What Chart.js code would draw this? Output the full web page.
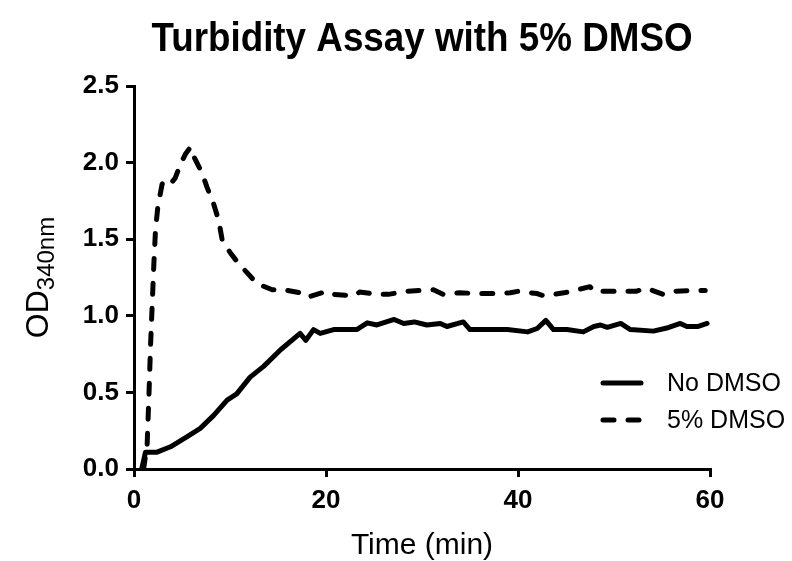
<!DOCTYPE html>
<html>
<head>
<meta charset="utf-8">
<script src="https://cdn.jsdelivr.net/npm/chart.js"></script>
<style>body{margin:0;background:#fff}</style>
</head>
<body>
<canvas id="chart" width="792" height="561"></canvas>
<script>
// values (time in min, OD340nm)
const noDmsoTime = [0.8, 1.2, 2.4, 3.8, 5.5, 6.9, 8.3, 9.7, 10.7, 12.1, 13.5, 15.3, 17.3, 17.9, 18.7, 19.4, 20.8, 23.2, 24.3, 25.3, 27.1, 28.1, 29.2, 30.5, 31.9, 32.6, 34.3, 35.0, 36.8, 38.9, 41.0, 42.0, 42.9, 43.7, 45.1, 46.8, 47.9, 48.6, 49.3, 50.7, 51.7, 54.1, 55.5, 56.9, 57.6, 58.7, 59.7];
const noDmsoOD = [0.0, 0.11, 0.11, 0.145, 0.21, 0.265, 0.35, 0.45, 0.49, 0.60, 0.67, 0.78, 0.885, 0.84, 0.91, 0.885, 0.91, 0.91, 0.954, 0.94, 0.976, 0.95, 0.96, 0.94, 0.95, 0.93, 0.96, 0.91, 0.91, 0.91, 0.895, 0.917, 0.97, 0.91, 0.91, 0.895, 0.93, 0.94, 0.925, 0.95, 0.91, 0.90, 0.92, 0.95, 0.93, 0.93, 0.95];

const dmsoTime = [1.0, 1.37, 1.55, 1.72, 1.9, 2.07, 2.24, 2.48, 2.93, 3.3, 3.8, 4.3, 4.84, 5.4, 5.88, 6.23, 7.1, 7.6, 8.3, 8.83, 9.2, 10.05, 10.9, 11.8, 12.8, 14.4, 15.6, 17.3, 18.0, 20.1, 20.8, 22.9, 23.5, 25.4, 26.5, 28.4, 31.2, 32.2, 33.9, 36.1, 37.5, 39.2, 40.0, 42.0, 42.7, 44.8, 45.5, 47.5, 47.9, 50.0, 51.0, 52.3, 53.4, 55.1, 56.1, 58.3, 59.5];
const dmsoOD = [0.0, 0.16, 0.47, 0.80, 1.08, 1.34, 1.56, 1.71, 1.86, 1.88, 1.86, 1.90, 1.99, 2.06, 2.10, 2.04, 1.93, 1.84, 1.73, 1.62, 1.49, 1.41, 1.34, 1.28, 1.21, 1.17, 1.17, 1.15, 1.12, 1.16, 1.14, 1.13, 1.155, 1.14, 1.14, 1.16, 1.17, 1.14, 1.15, 1.145, 1.145, 1.15, 1.16, 1.145, 1.13, 1.15, 1.16, 1.19, 1.16, 1.16, 1.16, 1.16, 1.18, 1.14, 1.16, 1.165, 1.165];

const seriesNames = ['No DMSO', '5% DMSO'];
const xTicks = [0, 20, 40, 60];
const yTicks = [0, 0.5, 1.0, 1.5, 2.0, 2.5];
const chartTitle = 'Turbidity Assay with 5% DMSO';

const FONT = '"Liberation Sans", Arial, sans-serif';

function toPoints(xs, ys){
  return xs.map((x, i) => ({x: x, y: ys[i]}));
}

// title centred over the plot, slightly condensed like the original
const plotTitle = {
  id: 'plotTitle',
  afterDraw(chart){
    const ctx = chart.ctx, area = chart.chartArea;
    const cx = (area.left + area.right) / 2;
    ctx.save();
    ctx.translate(cx, 40);
    ctx.scale(0.92, 1);
    ctx.fillStyle = '#000';
    ctx.font = 'bold 40px ' + FONT;
    ctx.textAlign = 'center';
    ctx.textBaseline = 'middle';
    ctx.fillText(chartTitle, 0, 0);
    ctx.restore();
  }
};

// y axis title with subscript
const yTitle = {
  id: 'yTitle',
  afterDraw(chart){
    const ctx = chart.ctx, area = chart.chartArea;
    const cy = (area.top + area.bottom) / 2;
    ctx.save();
    ctx.translate(48, cy);
    ctx.rotate(-Math.PI / 2);
    ctx.fillStyle = '#000';
    ctx.textBaseline = 'alphabetic';
    ctx.font = '32px ' + FONT;
    const w1 = ctx.measureText('OD').width;
    ctx.font = '24px ' + FONT;
    const w2 = ctx.measureText('340nm').width;
    const x0 = -(w1 + w2) / 2;
    ctx.font = '32px ' + FONT;
    ctx.fillText('OD', x0, 0);
    ctx.font = '24px ' + FONT;
    ctx.fillText('340nm', x0 + w1, 6);
    ctx.restore();
  }
};

// legend inside the plot, lower right
const insideLegend = {
  id: 'insideLegend',
  afterDraw(chart){
    const ctx = chart.ctx;
    const rows = [383, 420];
    chart.data.datasets.forEach((ds, i) => {
      const y = rows[i];
      ctx.save();
      ctx.strokeStyle = ds.borderColor;
      ctx.lineWidth = ds.borderWidth;
      ctx.lineCap = ds.borderCapStyle || 'butt';
      ctx.setLineDash(ds.borderDash || []);
      ctx.beginPath();
      ctx.moveTo(603, y);
      ctx.lineTo(641, y);
      ctx.stroke();
      ctx.setLineDash([]);
      ctx.fillStyle = '#000';
      ctx.font = '25px ' + FONT;
      ctx.textBaseline = 'middle';
      ctx.fillText(ds.label, 667, y + 1);
      ctx.restore();
    });
  }
};

new Chart(document.getElementById('chart'), {
  type: 'line',
  data: {
    datasets: [
      {label: seriesNames[0], data: toPoints(noDmsoTime, noDmsoOD), borderColor: '#000', borderWidth: 5, pointRadius: 0, tension: 0, borderJoinStyle: 'round', borderCapStyle: 'round'},
      {label: seriesNames[1], data: toPoints(dmsoTime, dmsoOD), borderColor: '#000', borderWidth: 5, pointRadius: 0, tension: 0, borderDash: [11, 14], borderJoinStyle: 'round', borderCapStyle: 'round'}
    ]
  },
  options: {
    responsive: false,
    animation: false,
    layout: {padding: {left: 0, right: 82, top: 86, bottom: 0}},
    plugins: {
      legend: {display: false},
      tooltip: {enabled: false},
      title: {display: false}
    },
    scales: {
      x: {
        type: 'linear',
        min: 0, max: 60,
        afterFit(s){ s.height = 92; },
        afterBuildTicks(s){ s.ticks = xTicks.map(v => ({value: v})); },
        ticks: {color: '#000', padding: 8, font: {family: FONT, size: 26, weight: 'bold'}},
        grid: {drawOnChartArea: false, color: '#000', lineWidth: 3, tickLength: 8},
        border: {display: true, color: '#000', width: 3},
        title: {display: true, text: 'Time (min)', color: '#000', padding: {top: 0, bottom: 0}, font: {family: FONT, size: 30, lineHeight: 1.0}}
      },
      y: {
        type: 'linear',
        min: 0, max: 2.5,
        afterFit(s){ s.width = 134; },
        afterBuildTicks(s){ s.ticks = yTicks.map(v => ({value: v})); },
        ticks: {color: '#000', padding: 7, font: {family: FONT, size: 26, weight: 'bold'}, callback: v => Number(v).toFixed(1)},
        grid: {drawOnChartArea: false, color: '#000', lineWidth: 3, tickLength: 8},
        border: {display: true, color: '#000', width: 3}
      }
    }
  },
  plugins: [plotTitle, yTitle, insideLegend]
});
</script>
</body>
</html>
